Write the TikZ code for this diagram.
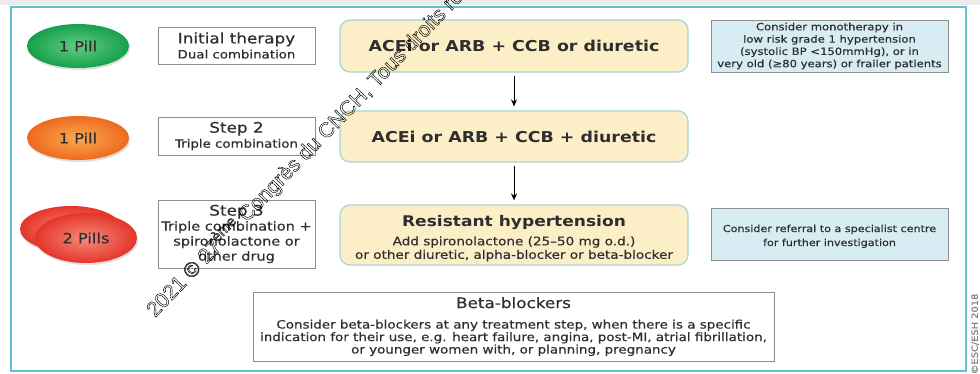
\documentclass[tikz,border=0pt]{standalone}
\usepackage{fontspec}
\setmainfont{DejaVu Sans}[FakeStretch=1.16, UprightFeatures={FakeBold=0.4}]
\newfontfamily\wmfont{Liberation Sans}
\usetikzlibrary{shapes.geometric,arrows.meta,shadows}
\definecolor{framec}{HTML}{5EC3D2}
\definecolor{ybox}{HTML}{FCEFC8}
\definecolor{yborder}{HTML}{A3D6D6}
\definecolor{bbox}{HTML}{D7EDF3}
\definecolor{gborder}{HTML}{8E8E8E}
\definecolor{txt}{HTML}{2E2E2E}
\definecolor{gin}{HTML}{62CC82}
\definecolor{gout}{HTML}{16A04C}
\definecolor{oin}{HTML}{F9AA52}
\definecolor{oout}{HTML}{EE6A1E}
\definecolor{rin}{HTML}{F88A7C}
\definecolor{rout}{HTML}{E5352A}
\tikzset{
  lbl/.style={draw=gborder, line width=1pt, fill=white, minimum width=157pt, align=center, text=txt, inner sep=0pt},
  mainbox/.style={draw=yborder, line width=1.2pt, fill=ybox, rounded corners=10pt, minimum width=348pt, align=center, text=txt, inner sep=0pt},
  note/.style={draw=gborder, line width=1pt, fill=bbox, minimum width=237pt, minimum height=52pt, align=center, text=txt, inner sep=0pt},
  pill/.style={ellipse, minimum width=102pt, minimum height=44pt, inner sep=0pt, text=txt, font=\fontsize{14}{14}\selectfont,
     drop shadow={shadow xshift=1pt, shadow yshift=-2pt, opacity=0.25}},
  flow/.style={-{Stealth[length=7pt,width=6pt]}, line width=1pt, black, shorten <=3pt, shorten >=4pt},
}
\begin{document}
\begin{tikzpicture}[x=1pt,y=-1pt]
\useasboundingbox (0,0) rectangle (980,373);
\fill[white] (0,0) rectangle (980,373);
\fill[black!8] (0,0) rectangle (980,5);
\draw[framec, line width=2pt] (11,7) rectangle (966,371);

% pills
\node[pill, shading=radial, inner color=gin, outer color=gout] (p1) at (78,46) {1 Pill};
\node[pill, shading=radial, inner color=oin, outer color=oout] (p2) at (78,138) {1 Pill};
\node[pill, minimum height=46pt, shading=radial, inner color=rin, outer color=rout] (p3b) at (71,229) {};
\node[pill, minimum height=50pt, shading=radial, inner color=rin, outer color=rout] (p3) at (86,238) {2 Pills};

% step labels
\node[lbl, minimum height=37pt, font=\fontsize{11.5}{15}\selectfont] (l1) at (236.5,45.5)
  {{\fontsize{14.5}{15}\selectfont Initial therapy}\\Dual combination};
\node[lbl, minimum height=38pt, font=\fontsize{11.5}{15}\selectfont] (l2) at (236.5,136)
  {{\fontsize{14.5}{15}\selectfont Step 2}\\Triple combination};
\node[lbl, minimum height=68pt, font=\fontsize{12.5}{15}\selectfont] (l3) at (236.5,234)
  {{\fontsize{14.5}{15}\selectfont Step 3}\\Triple combination +\\spironolactone or\\other drug};

% main boxes
\node[mainbox, minimum height=52pt, font=\bfseries\fontsize{15}{17}\selectfont] (b1) at (514,46)
  {ACEi or ARB + CCB or diuretic};
\node[mainbox, minimum height=51pt, font=\bfseries\fontsize{15}{17}\selectfont] (b2) at (514,136.5)
  {ACEi or ARB + CCB + diuretic};
\node[mainbox, minimum height=60pt, font=\fontsize{11.7}{13.5}\selectfont] (b3) at (514,235)
  {{\bfseries\fontsize{14.7}{15}\selectfont\rule{0pt}{18pt}Resistant hypertension}\\[5pt]Add spironolactone (25–50 mg o.d.)\\or other diuretic, alpha-blocker or beta-blocker};

\draw[flow] (b1.south) -- (b2.north);
\draw[flow] (b2.south) -- (b3.north);

% notes
\node[note, font=\fontsize{10}{12.3}\selectfont] (n1) at (829.5,46)
  {Consider monotherapy in\\low risk grade 1 hypertension\\(systolic BP <150mmHg), or in\\very old (≥80 years) or frailer patients};
\node[note, font=\fontsize{9.6}{14}\selectfont] (n2) at (829.5,234)
  {\rule{0pt}{12pt}Consider referral to a specialist centre\\for further investigation};

% beta-blockers
\node[lbl, minimum width=521pt, minimum height=69pt, font=\fontsize{11.6}{12.5}\selectfont] (bb) at (513.5,326.5)
  {{\fontsize{14.5}{15}\selectfont Beta-blockers}\\[8pt]Consider beta-blockers at any treatment step, when there is a specific\\indication for their use, e.g. heart failure, angina, post-MI, atrial fibrillation,\\or younger women with, or planning, pregnancy};

% copyright
\node[rotate=90, text=black!50, inner sep=0pt, font=\fontsize{8.5}{9}\selectfont] (esc) at (975,334) {©ESC/ESH 2018};

% watermark (outlined)
\begin{scope}
\clip (0,0) rectangle (980,373);
\node[rotate=46, anchor=base west, inner sep=0pt, text=black] (wm) at (155,318)
  {\special{pdf:literal direct 1 Tr 0.45 w}\wmfont\fontsize{21}{21}\selectfont 2021 © 27\textsuperscript{ème} Congrès du CNCH, Tous droits réservés\special{pdf:literal direct 0 Tr}};
\end{scope}
\end{tikzpicture}
\end{document}
